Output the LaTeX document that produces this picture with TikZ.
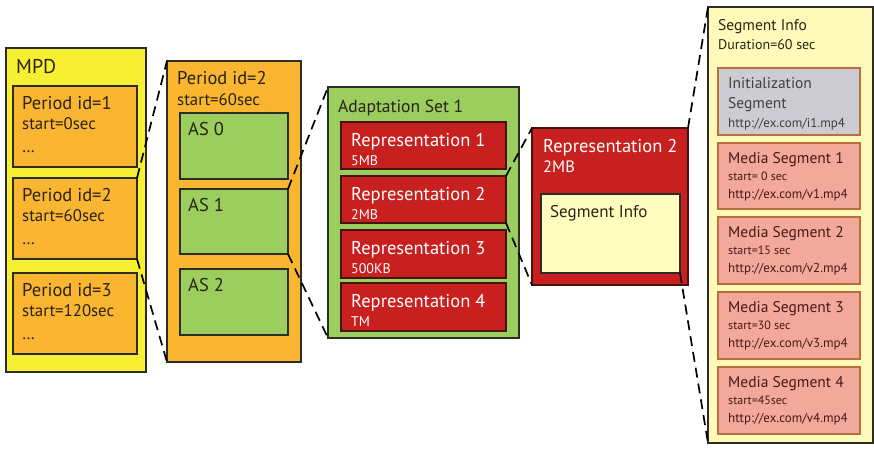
\documentclass[tikz,border=0pt]{standalone}
\usepackage{fontspec}
\setmainfont{PT Sans}
\definecolor{mpdY}{RGB}{247,240,50}
\definecolor{perO}{RGB}{250,182,48}
\definecolor{asG}{RGB}{155,205,95}
\definecolor{repR}{RGB}{200,32,30}
\definecolor{siY}{RGB}{255,254,190}
\definecolor{colY}{RGB}{255,250,185}
\definecolor{initG}{RGB}{204,204,210}
\definecolor{msP}{RGB}{242,168,155}
\definecolor{msB}{RGB}{185,110,60}
\definecolor{lineD}{RGB}{45,45,40}
\definecolor{redB}{RGB}{70,20,15}
\definecolor{txtD}{RGB}{40,35,20}
\definecolor{txtM}{RGB}{75,25,20}
\begin{document}
\begin{tikzpicture}[x=1pt,y=-1pt,
  box/.style={draw=lineD, line width=1.2pt, anchor=north west, inner sep=0pt, outer sep=0pt},
  redbox/.style={box, draw=redB, fill=repR},
  msbox/.style={box, draw=msB, fill=msP, minimum width=142pt},
  txt/.style={anchor=base west, inner sep=0pt, text=txtD},
  big/.style={font=\fontsize{18.5}{18.5}\selectfont},
  mid/.style={font=\fontsize{16.8}{16.8}\selectfont},
  sml/.style={font=\fontsize{14}{14}\selectfont},
  cbig/.style={font=\fontsize{15.5}{15.5}\selectfont},
  cmid/.style={font=\fontsize{12}{12}\selectfont},
  curl/.style={font=\fontsize{13}{13}\selectfont},
  conn/.style={draw=black, line width=1.7pt, dash pattern=on 10pt off 6pt}]
\useasboundingbox (0,0) rectangle (874,452);
\fill[white] (0,0) rectangle (874,452);

% MPD
\node[box, fill=mpdY, minimum width=140pt, minimum height=324pt] (mpd) at (6,48) {};
\node[txt, font=\fontsize{20}{20}\selectfont] (mpdt) at (16,74) {MPD};
\node[box, fill=perO, minimum width=124pt, minimum height=81pt] (p1) at (13,86) {};
\node[box, fill=perO, minimum width=124pt, minimum height=81pt] (p2) at (13,178) {};
\node[box, fill=perO, minimum width=124pt, minimum height=81pt] (p3) at (13,273) {};
\node[txt, big] (p1a) at (22,109) {Period id=1};
\node[txt, mid] (p1b) at (22,129) {start=0sec};
\node[txt, mid] (p1c) at (22,152) {\dots};
\node[txt, big] (p2a) at (22,201) {Period id=2};
\node[txt, mid] (p2b) at (22,221) {start=60sec};
\node[txt, mid] (p2c) at (22,244) {\dots};
\node[txt, big] (p3a) at (22,296) {Period id=3};
\node[txt, mid] (p3b) at (22,316) {start=120sec};
\node[txt, mid] (p3c) at (22,339) {\dots};

% Period
\node[box, fill=perO, minimum width=134pt, minimum height=301pt] (per) at (167,61) {};
\node[txt, big] (pert) at (177,84) {Period id=2};
\node[txt, mid] (pers) at (177,105) {start=60sec};
\node[box, fill=asG, minimum width=108pt, minimum height=66pt] (as0) at (180,113) {};
\node[box, fill=asG, minimum width=108pt, minimum height=65pt] (as1) at (180,189) {};
\node[box, fill=asG, minimum width=108pt, minimum height=66pt] (as2) at (180,269) {};
\node[txt, big] (as0t) at (188,135) {AS 0};
\node[txt, big] (as1t) at (188,211) {AS 1};
\node[txt, big] (as2t) at (188,291) {AS 2};

% Adaptation set
\node[box, fill=asG, minimum width=191pt, minimum height=251pt] (ads) at (328,87) {};
\node[txt, font=\fontsize{17.5}{17.5}\selectfont] (adst) at (338,112) {Adaptation Set 1};
\node[redbox, minimum width=165pt, minimum height=47pt] (r1) at (341,122) {};
\node[redbox, minimum width=165pt, minimum height=47pt] (r2) at (341,176) {};
\node[redbox, minimum width=165pt, minimum height=48pt] (r3) at (341,230) {};
\node[redbox, minimum width=165pt, minimum height=48pt] (r4) at (341,283) {};
\node[txt, big, text=white] (r1a) at (351,146) {Representation 1};
\node[txt, sml, text=white] (r1b) at (351,165) {5MB};
\node[txt, big, text=white] (r2a) at (351,200) {Representation 2};
\node[txt, sml, text=white] (r2b) at (351,219) {2MB};
\node[txt, big, text=white] (r3a) at (351,254) {Representation 3};
\node[txt, sml, text=white] (r3b) at (351,273) {500KB};
\node[txt, big, text=white] (r4a) at (351,307) {Representation 4};
\node[txt, sml, text=white] (r4b) at (351,326) {TM};

% Representation 2
\node[redbox, minimum width=156pt, minimum height=157pt] (rep) at (532,128) {};
\node[txt, big, text=white] (rept) at (543,152) {Representation 2};
\node[txt, font=\fontsize{16.5}{16.5}\selectfont, text=white] (reps) at (543,172) {2MB};
\node[box, fill=siY, minimum width=139pt, minimum height=79pt] (si) at (541,194) {};
\node[txt, font=\fontsize{17}{17}\selectfont] (sit) at (550,217) {Segment Info};

% Segment info column
\node[box, fill=colY, minimum width=165pt, minimum height=436pt] (col) at (708,7) {};
\node[txt, cbig] (colt) at (718,31) {Segment Info};
\node[txt, font=\fontsize{14}{14}\selectfont] (cold) at (718,49) {Duration=60 sec};
\node[box, draw=msB, fill=initG, minimum width=142pt, minimum height=67pt] (init) at (718,68) {};
\node[txt, cbig, text=black!75] (inita) at (728,88) {Initialization};
\node[txt, cbig, text=black!75] (initb) at (728,108) {Segment};
\node[txt, curl, text=black!75] (initc) at (728,127) {http://ex.com/i1.mp4};
\node[msbox, minimum height=66pt] (ms1) at (718,143) {};
\node[msbox, minimum height=67pt] (ms2) at (718,217) {};
\node[msbox, minimum height=67pt] (ms3) at (718,292) {};
\node[msbox, minimum height=67pt] (ms4) at (718,367) {};
\node[txt, cbig, text=txtM] (ms1a) at (728,163) {Media Segment 1};
\node[txt, cmid, text=txtM] (ms1b) at (728,180) {start= 0 sec};
\node[txt, curl, text=txtM] (ms1c) at (728,198) {http://ex.com/v1.mp4};
\node[txt, cbig, text=txtM] (ms2a) at (728,237) {Media Segment 2};
\node[txt, cmid, text=txtM] (ms2b) at (728,254) {start=15 sec};
\node[txt, curl, text=txtM] (ms2c) at (728,272) {http://ex.com/v2.mp4};
\node[txt, cbig, text=txtM] (ms3a) at (728,312) {Media Segment 3};
\node[txt, cmid, text=txtM] (ms3b) at (728,329) {start=30 sec};
\node[txt, curl, text=txtM] (ms3c) at (728,347) {http://ex.com/v3.mp4};
\node[txt, cbig, text=txtM] (ms4a) at (728,387) {Media Segment 4};
\node[txt, cmid, text=txtM] (ms4b) at (728,404) {start=45sec};
\node[txt, curl, text=txtM] (ms4c) at (728,422) {http://ex.com/v4.mp4};

% connectors
\draw[conn] (p2.north east) -- (per.north west);
\draw[conn] (p2.south east) -- (per.south west);
\draw[conn] (as1.north east) -- (ads.north west);
\draw[conn] (as1.south east) -- (ads.south west);
\draw[conn] (r2.north east) -- (rep.north west);
\draw[conn] (r2.south east) -- (rep.south west);
\draw[conn] (rep.north east) -- (col.north west);
\draw[conn] (si.south east) -- (col.south west);
\end{tikzpicture}
\end{document}
